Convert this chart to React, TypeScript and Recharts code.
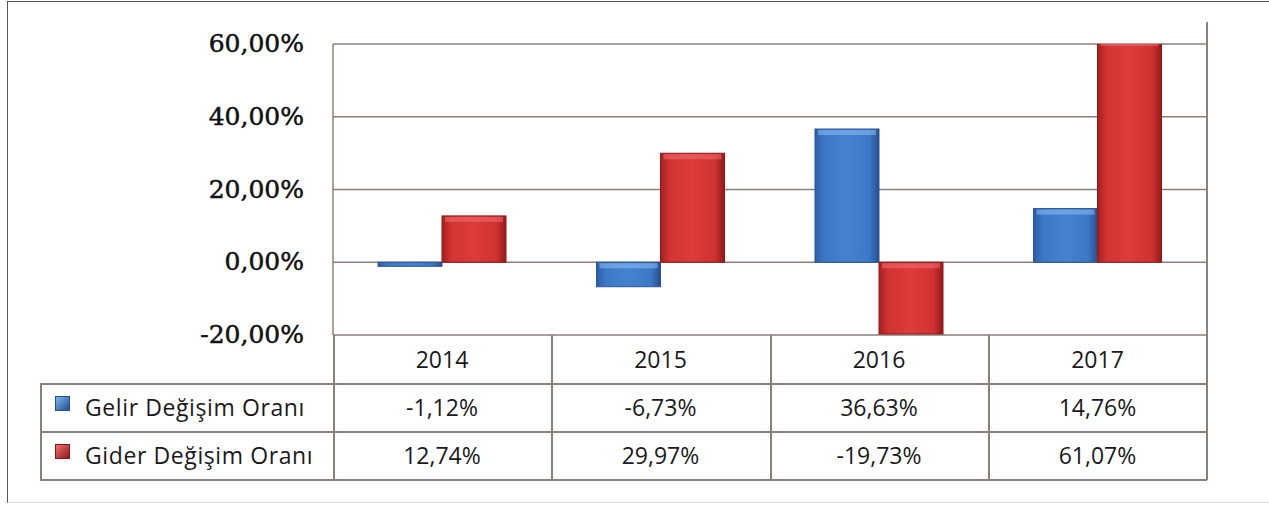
import React from 'react';
import { BarChart, Bar, XAxis, YAxis, CartesianGrid } from 'recharts';

const years = ['2014', '2015', '2016', '2017'];
const gelir = [-1.12, -6.73, 36.63, 14.76];
const gider = [12.74, 29.97, -19.73, 61.07];
const gelirLabels = ['-1,12%', '-6,73%', '36,63%', '14,76%'];
const giderLabels = ['12,74%', '29,97%', '-19,73%', '61,07%'];
const seriesNames = ['Gelir Değişim Oranı', 'Gider Değişim Oranı'];
const yTicks = [-20, 0, 20, 40, 60];

const data = years.map((y, i) => ({ year: y, gelir: gelir[i], gider: gider[i] }));

const GRID = '#8c807b';
const colX = [333, 551, 770, 988, 1207];
const rowY = [335, 383, 431, 479];

const fmtTick = (v: number) => v.toFixed(2).replace('.', ',') + '%';

const makeShape = (grad: string, hi: string, edge: string) => (props: any) => {
  let { x, y, width, height } = props;
  if (height < 0) {
    y = y + height;
    height = -height;
  }
  if (!width || height === undefined) return null;
  return (
    <g>
      <rect x={x} y={y} width={width} height={height} fill={`url(#${grad})`} stroke={edge} strokeWidth={1} />
      {height > 8 && (
        <rect x={x + 3} y={y + 1} width={width - 6} height={Math.min(5, height / 3)} fill={hi} opacity={0.55} />
      )}
    </g>
  );
};

const YTick = (props: any) => {
  const { x, y, payload } = props;
  return (
    <text
      x={x}
      y={y + 8}
      textAnchor="end"
      fontFamily="DejaVu Serif"
      fontSize={25}
      fontWeight={400}
      fill="#111"
      stroke="#111"
      strokeWidth={0.5}
    >
      {fmtTick(payload.value)}
    </text>
  );
};

const cellText: React.CSSProperties = {
  position: 'absolute',
  fontFamily: '"Open Sans", sans-serif',
  fontSize: 23,
  color: '#1a1a1a',
  textAlign: 'center',
  lineHeight: '48px',
  height: 48,
  whiteSpace: 'nowrap',
};

export default function App() {
  const legendEdge = ['#23508f', '#8e1717'];
  const rows = [gelirLabels, giderLabels];
  return (
    <div style={{ position: 'absolute', left: 0, top: 0, width: 1269, height: 505, background: '#fff', overflow: 'hidden' }}>
      <div
        style={{
          position: 'absolute',
          left: 7,
          top: 1,
          width: 1300,
          height: 500,
          borderLeft: '1.5px solid #555',
          borderTop: '1.5px solid #555',
          borderBottom: '1px solid #d8d8d8',
        }}
      />
      <div style={{ position: 'absolute', left: 0, top: 0 }}>
        <BarChart
          width={1269}
          height={505}
          data={data}
          margin={{ top: 44, right: 62, bottom: 170, left: 0 }}
          barSize={64}
          barGap={0}
        >
          <defs>
            <linearGradient id="gBlue" x1="0" y1="0" x2="1" y2="0">
              <stop offset="0" stopColor="#2c5ea6" />
              <stop offset="0.15" stopColor="#3d78c6" />
              <stop offset="0.5" stopColor="#4482d0" />
              <stop offset="0.85" stopColor="#3d78c6" />
              <stop offset="1" stopColor="#274f8e" />
            </linearGradient>
            <linearGradient id="gRed" x1="0" y1="0" x2="1" y2="0">
              <stop offset="0" stopColor="#a81e1e" />
              <stop offset="0.15" stopColor="#d23434" />
              <stop offset="0.5" stopColor="#dc3c3a" />
              <stop offset="0.85" stopColor="#cf3232" />
              <stop offset="1" stopColor="#961818" />
            </linearGradient>
          </defs>
          <CartesianGrid vertical={false} stroke={GRID} strokeWidth={1.5} />
          <XAxis dataKey="year" hide />
          <YAxis
            width={333}
            domain={[-20, 60]}
            ticks={yTicks}
            allowDataOverflow
            axisLine={{ stroke: GRID, strokeWidth: 1.5 }}
            tickLine={false}
            tickSize={0}
            tickMargin={29}
            tick={<YTick />}
          />
          <Bar dataKey="gelir" isAnimationActive={false} shape={makeShape('gBlue', '#8cc0f5', '#2a5599')} />
          <Bar dataKey="gider" isAnimationActive={false} shape={makeShape('gRed', '#f07070', '#8e1a1a')} />
        </BarChart>
      </div>
      <div style={{ position: 'absolute', left: 1206, top: 22, width: 1.5, height: 458, background: GRID }} />
      <div style={{ position: 'absolute', left: 40, top: rowY[1], width: colX[4] - 40, height: 1.5, background: GRID }} />
      <div style={{ position: 'absolute', left: 40, top: rowY[2], width: colX[4] - 40, height: 1.5, background: GRID }} />
      <div style={{ position: 'absolute', left: 40, top: rowY[3], width: colX[4] - 40, height: 1.5, background: GRID }} />
      <div style={{ position: 'absolute', left: 40, top: rowY[1], width: 1.5, height: rowY[3] - rowY[1], background: GRID }} />
      {colX.slice(0, 4).map((x) => (
        <div key={x} style={{ position: 'absolute', left: x, top: rowY[0], width: 1.5, height: rowY[3] - rowY[0], background: GRID }} />
      ))}
      {years.map((y, i) => (
        <div key={y} style={{ ...cellText, left: colX[i], width: colX[i + 1] - colX[i], top: rowY[0] }}>
          {y}
        </div>
      ))}
      {rows.map((r, ri) => (
        <React.Fragment key={ri}>
          <div
            style={{
              position: 'absolute',
              left: 55,
              top: rowY[ri + 1] + 13,
              width: 13,
              height: 13,
              background: ri === 0 ? 'linear-gradient(135deg, #7fb2ee, #23508f)' : 'linear-gradient(135deg, #f07070, #8e1717)',
              border: `1px solid ${legendEdge[ri]}`,
            }}
          />
          <div style={{ ...cellText, textAlign: 'left', left: 85, top: rowY[ri + 1], letterSpacing: 0.6 }}>{seriesNames[ri]}</div>
          {r.map((v, i) => (
            <div key={i} style={{ ...cellText, left: colX[i], width: colX[i + 1] - colX[i], top: rowY[ri + 1] }}>
              {v}
            </div>
          ))}
        </React.Fragment>
      ))}
    </div>
  );
}
